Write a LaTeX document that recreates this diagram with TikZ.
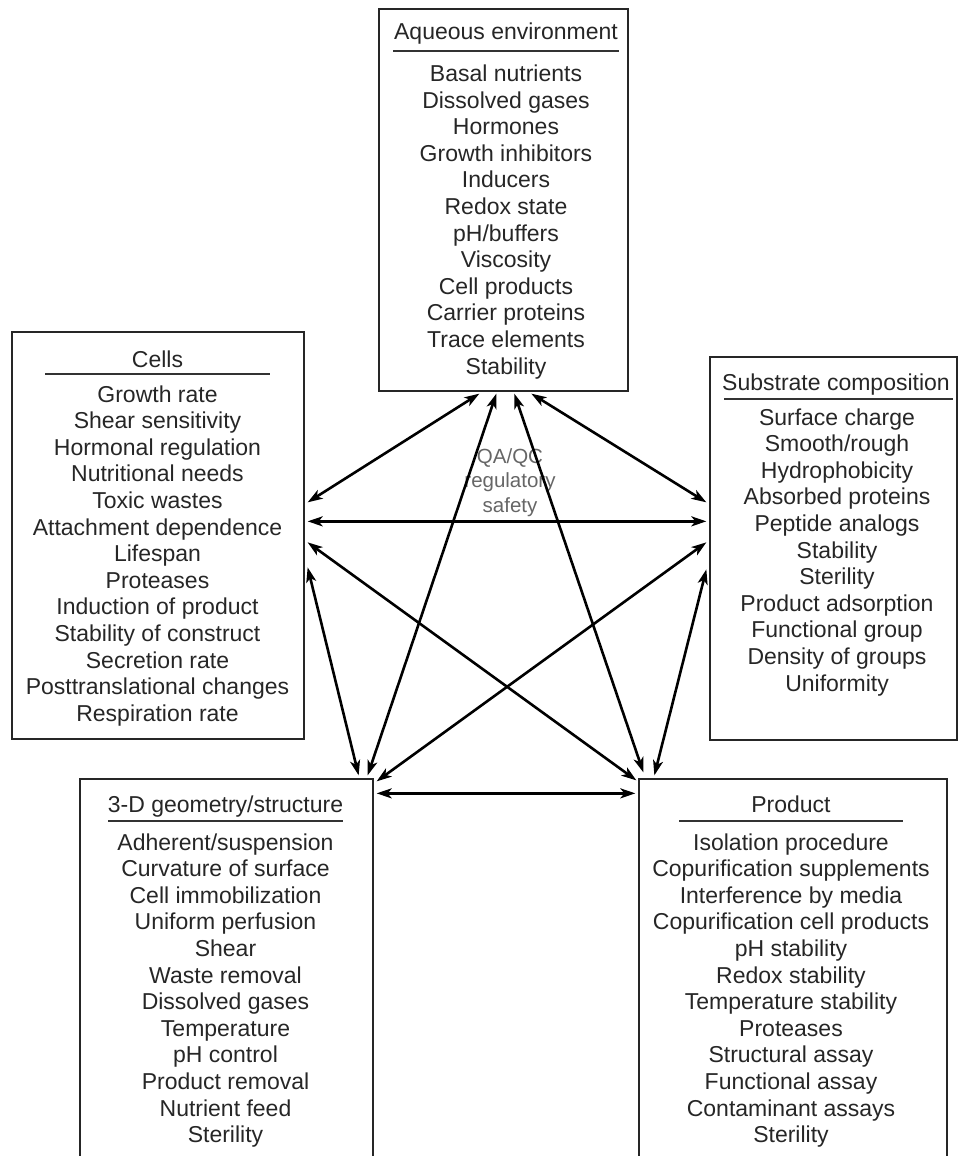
\documentclass[tikz,border=0pt]{standalone}
\usepackage{fontspec}
\setmainfont{Liberation Sans}
\usetikzlibrary{arrows.meta}
\begin{document}
\begin{tikzpicture}[x=1pt,y=-1pt]
\tikzset{
 box/.style={draw=black!85, line width=1.3pt, inner sep=0pt},
 txt/.style={font=\fontsize{23}{26.6}\selectfont, anchor=base, inner sep=0pt, text=black!85},
 qa/.style={font=\fontsize{20.5}{24}\selectfont, anchor=base, inner sep=0pt, text=black!60},
 rule/.style={line width=1.2pt, draw=black!80},
 arr/.style={line width=2.6pt, {Stealth[length=15pt,width=10pt,inset=4pt]}-{Stealth[length=15pt,width=10pt,inset=4pt]}},
}
\useasboundingbox (0,0) rectangle (958,1156);
\clip (0,0) rectangle (958,1156);
% boxes
\node[box, minimum width=249pt, minimum height=382pt] (A) at (503.5,200) {};
\node[box, minimum width=292pt, minimum height=407pt] (C) at (158,535.5) {};
\node[box, minimum width=247pt, minimum height=383pt] (S) at (833.5,548.5) {};
\node[box, minimum width=293pt, minimum height=391pt] (D) at (226.5,974.5) {};
\node[box, minimum width=308pt, minimum height=391pt] (P) at (793,974.5) {};
% Aqueous
\node[txt] (At) at (506,40) {Aqueous environment};
\draw[rule] (393,51) -- (619,51);
\foreach \t [count=\i from 0] in {Basal nutrients,Dissolved gases,Hormones,Growth inhibitors,Inducers,Redox state,pH/buffers,Viscosity,Cell products,Carrier proteins,Trace elements,Stability}
  \node[txt] (A-\i) at (506,81.5+26.6*\i) {\t};
% Cells
\node[txt] (Ct) at (157.5,367) {Cells};
\draw[rule] (45,374) -- (270,374);
\foreach \t [count=\i from 0] in {Growth rate,Shear sensitivity,Hormonal regulation,Nutritional needs,Toxic wastes,Attachment dependence,Lifespan,Proteases,Induction of product,Stability of construct,Secretion rate,Posttranslational changes,Respiration rate}
  \node[txt] (C-\i) at (157.5,402+26.6*\i) {\t};
% Substrate
\node[txt] (St) at (836,390) {Substrate composition};
\draw[rule] (724,399) -- (953,399);
\foreach \t [count=\i from 0] in {Surface charge,Smooth/rough,Hydrophobicity,Absorbed proteins,Peptide analogs,Stability,Sterility,Product adsorption,Functional group,Density of groups,Uniformity}
  \node[txt] (S-\i) at (837,425+26.6*\i) {\t};
% 3-D
\node[txt] (Dt) at (225.5,812) {3-D geometry/structure};
\draw[rule] (108,821) -- (343,821);
\foreach \t [count=\i from 0] in {Adherent/suspension,Curvature of surface,Cell immobilization,Uniform perfusion,Shear,Waste removal,Dissolved gases,Temperature,pH control,Product removal,Nutrient feed,Sterility}
  \node[txt] (D-\i) at (225.5,850+26.6*\i) {\t};
% Product
\node[txt] (Pt) at (791,812) {Product};
\draw[rule] (679,821) -- (903,821);
\foreach \t [count=\i from 0] in {Isolation procedure,Copurification supplements,Interference by media,Copurification cell products,pH stability,Redox stability,Temperature stability,Proteases,Structural assay,Functional assay,Contaminant assays,Sterility}
  \node[txt] (P-\i) at (791,850+26.6*\i) {\t};
% centre
\node[qa] (q1) at (510,463) {QA/QC};
\node[qa] (q2) at (510,487.5) {regulatory};
\node[qa] (q3) at (510,512) {safety};
% connectors
\draw[arr] ([shift={(101,2)}]A.south west) -- ([shift={(3,171)}]C.north east);
\draw[arr] ([shift={(118,2)}]A.south west) -- ([shift={(-6,-3)}]D.north east);
\draw[arr] ([shift={(136,2)}]A.south west) -- ([shift={(5,-6)}]P.north west);
\draw[arr] ([shift={(153,2)}]A.south west) -- ([shift={(-3,146)}]S.north west);
\draw[arr] ([shift={(3,190)}]C.north east) -- ([shift={(-3,165)}]S.north west);
\draw[arr] ([shift={(3,211)}]C.north east) -- ([shift={(-2,2)}]P.north west);
\draw[arr] ([shift={(-3,186)}]S.north west) -- ([shift={(3,3)}]D.north east);
\draw[arr] ([shift={(3,236)}]C.north east) -- ([shift={(-15,-3)}]D.north east);
\draw[arr] ([shift={(-3,213)}]S.north west) -- ([shift={(16,-3)}]P.north west);
\draw[arr] ([shift={(3,15)}]D.north east) -- ([shift={(-3,15)}]P.north west);
\end{tikzpicture}
\end{document}
